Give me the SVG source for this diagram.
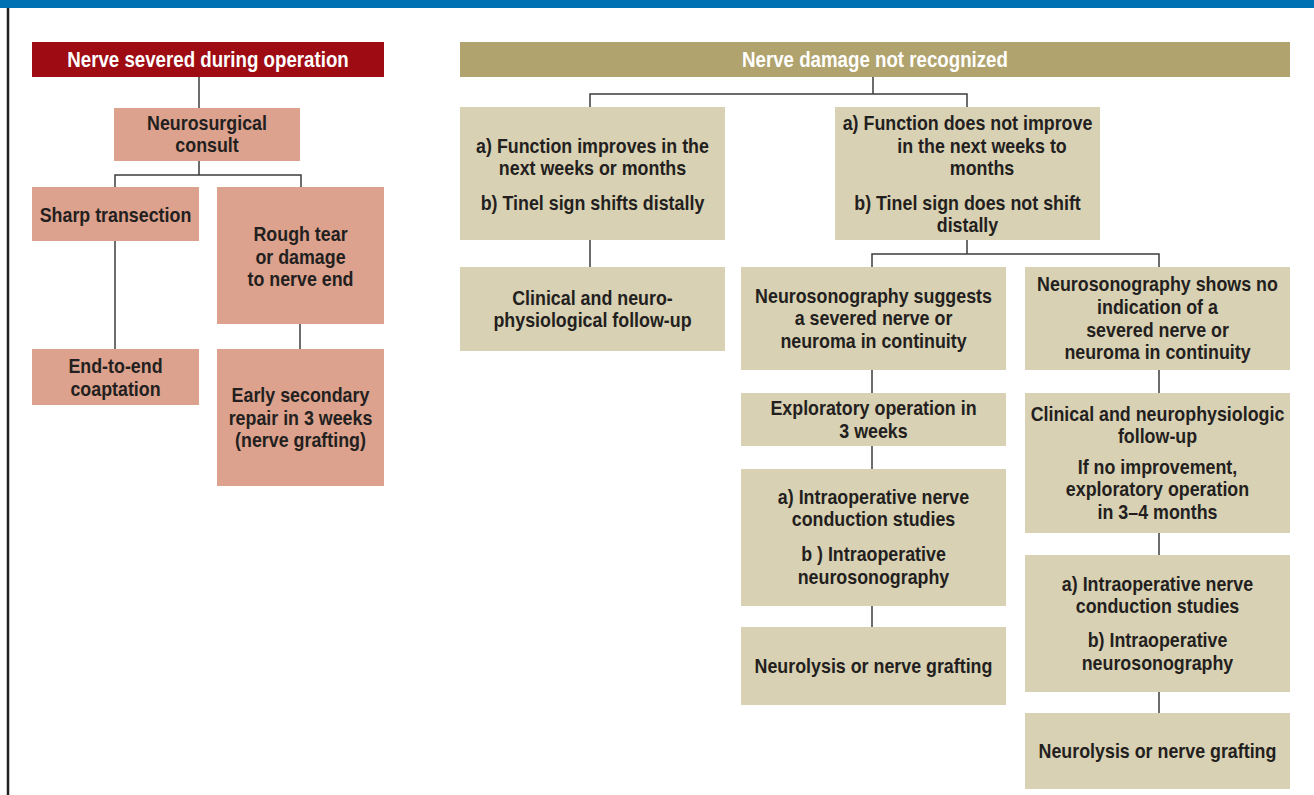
<svg xmlns="http://www.w3.org/2000/svg" width="1314" height="795" viewBox="0 0 1314 795">
<style>
text{font-family:"Liberation Sans",Arial,sans-serif;font-weight:bold;font-size:21px;fill:#231f20;text-anchor:middle;transform-box:fill-box;transform-origin:center;transform:scaleX(0.85)}
text.hd{fill:#ffffff;font-size:22px}
.red{fill:#9e0b12}
.sal{fill:#dca28d}
.olv{fill:#b1a36d}
.bei{fill:#d9d1b3}
#connectors path{fill:none;stroke:#3d3d3d;stroke-width:1.5}
</style>
<rect x="0" y="0" width="1314" height="8" fill="#0072b4"/>
<line x1="8" y1="8" x2="8" y2="795" stroke="#231f20" stroke-width="2.5"/>
<g id="connectors">
<path d="M199,77V108"/>
<path d="M199,161V175M115,187V175H301V187"/>
<path d="M115,241V349"/>
<path d="M300,324V349"/>
<path d="M873,77V94M590,107V94H967V107"/>
<path d="M590,240V267"/>
<path d="M967,240V254M872,267V254H1159V267"/>
<path d="M872,370V393M872,446V469M872,606V627"/>
<path d="M1159,370V393M1159,533V555M1159,692V713"/>
</g>
<g id="n-severed"><rect class="red" x="32" y="42" width="352" height="35"/><text class="hd" x="208" y="67">Nerve severed during operation</text></g>
<g id="n-consult"><rect class="sal" x="114" y="108" width="186" height="53"/><text x="207" y="130">Neurosurgical</text><text x="207" y="152.5">consult</text></g>
<g id="n-sharp"><rect class="sal" x="32" y="187" width="167" height="54"/><text x="115.5" y="222">Sharp transection</text></g>
<g id="n-rough"><rect class="sal" x="217" y="187" width="167" height="137"/><text x="300.5" y="241.5">Rough tear</text><text x="300.5" y="264">or damage</text><text x="300.5" y="286.5">to nerve end</text></g>
<g id="n-end"><rect class="sal" x="32" y="349" width="167" height="56"/><text x="115.5" y="373">End-to-end</text><text x="115.5" y="396">coaptation</text></g>
<g id="n-early"><rect class="sal" x="217" y="349" width="167" height="137"/><text x="300.5" y="402.5">Early secondary</text><text x="300.5" y="425">repair in 3 weeks</text><text x="300.5" y="447.5">(nerve grafting)</text></g>
<g id="n-notrec"><rect class="olv" x="460" y="42" width="830" height="35"/><text class="hd" x="875" y="67">Nerve damage not recognized</text></g>
<g id="n-improves"><rect class="bei" x="460" y="107" width="265" height="133"/><text x="592.5" y="153">a) Function improves in the</text><text x="592.5" y="175.5">next weeks or months</text><text x="592.5" y="210">b) Tinel sign shifts distally</text></g>
<g id="n-notimprove"><rect class="bei" x="835" y="107" width="265" height="133"/><text x="967.5" y="130">a) Function does not improve</text><text x="982" y="153">in the next weeks to</text><text x="982" y="175.5">months</text><text x="967.5" y="210">b) Tinel sign does not shift</text><text x="967.5" y="232">distally</text></g>
<g id="n-followup1"><rect class="bei" x="460" y="267" width="265" height="84"/><text x="592.5" y="305">Clinical and neuro-</text><text x="592.5" y="327.5">physiological follow-up</text></g>
<g id="n-suggests"><rect class="bei" x="741" y="267" width="265" height="103"/><text x="873.5" y="303">Neurosonography suggests</text><text x="873.5" y="325.5">a severed nerve or</text><text x="873.5" y="348">neuroma in continuity</text></g>
<g id="n-shows-no"><rect class="bei" x="1025" y="267" width="265" height="103"/><text x="1157.5" y="291.5">Neurosonography shows no</text><text x="1157.5" y="314">indication of a</text><text x="1157.5" y="337">severed nerve or</text><text x="1157.5" y="359.5">neuroma in continuity</text></g>
<g id="n-explor3w"><rect class="bei" x="741" y="393" width="265" height="53"/><text x="873.5" y="415">Exploratory operation in</text><text x="873.5" y="438">3 weeks</text></g>
<g id="n-intraop1"><rect class="bei" x="741" y="469" width="265" height="137"/><text x="873.5" y="504">a) Intraoperative nerve</text><text x="873.5" y="526.5">conduction studies</text><text x="873.5" y="561.5">b ) Intraoperative</text><text x="873.5" y="584">neurosonography</text></g>
<g id="n-neurolysis1"><rect class="bei" x="741" y="627" width="265" height="78"/><text x="873.5" y="673">Neurolysis or nerve grafting</text></g>
<g id="n-followup2"><rect class="bei" x="1025" y="393" width="265" height="140"/><text x="1157.5" y="421.5">Clinical and neurophysiologic</text><text x="1157.5" y="443.5">follow-up</text><text x="1157.5" y="474">If no improvement,</text><text x="1157.5" y="496.5">exploratory operation</text><text x="1157.5" y="519">in 3–4 months</text></g>
<g id="n-intraop2"><rect class="bei" x="1025" y="555" width="265" height="137"/><text x="1157.5" y="591.5">a) Intraoperative nerve</text><text x="1157.5" y="613.5">conduction studies</text><text x="1157.5" y="647">b) Intraoperative</text><text x="1157.5" y="670">neurosonography</text></g>
<g id="n-neurolysis2"><rect class="bei" x="1025" y="713" width="265" height="76"/><text x="1157.5" y="758">Neurolysis or nerve grafting</text></g>
</svg>
